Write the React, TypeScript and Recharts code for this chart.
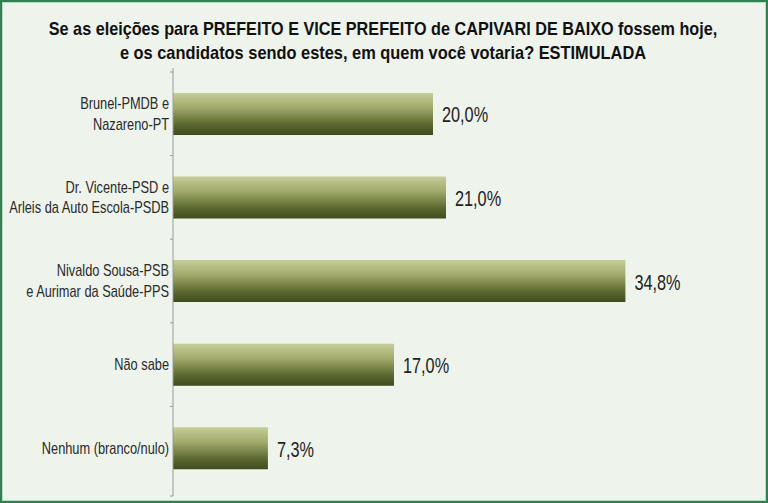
import React, { useLayoutEffect, useRef, useState } from 'react'
import { BarChart, Bar, XAxis, YAxis, LabelList } from 'recharts'

const categories = [
  'Brunel-PMDB e\nNazareno-PT',
  'Dr. Vicente-PSD e\nArleis da Auto Escola-PSDB',
  'Nivaldo Sousa-PSB\ne Aurimar da Saúde-PPS',
  'Não sabe',
  'Nenhum (branco/nulo)',
]
const votes = [20.0, 21.0, 34.8, 17.0, 7.3]

const titleLines = [
  'Se as eleições para PREFEITO E VICE PREFEITO de CAPIVARI DE BAIXO fossem hoje,',
  'e os candidatos sendo estes, em quem você votaria? ESTIMULADA',
]
const titleWidths = [668, 526]

const data = categories.map((name, i) => ({ name, value: votes[i] }))

const FONT = '"Liberation Sans", Arial, sans-serif'
const CHART_TOP = 72
const CHART_BOTTOM = 13
const CHART_H = 503
const band = (CHART_H - CHART_TOP - CHART_BOTTOM) / categories.length
const AXIS = '#9a9a9a'

// no narrow font installed, so squeeze the bold title to the width it has in the original
function Title() {
  const refs = useRef<(SVGTextElement | null)[]>([])
  const [scales, setScales] = useState<number[]>(titleLines.map(() => 0.85))
  useLayoutEffect(() => {
    setScales(
      titleLines.map((_, i) => {
        const el = refs.current[i]
        const w = el ? el.getComputedTextLength() : 0
        return w > 0 ? titleWidths[i] / w : 0.85
      }),
    )
  }, [])
  return (
    <svg width={768} height={70} style={{ position: 'absolute', left: -2, top: -2 }}>
      {titleLines.map((t, i) => (
        <text
          key={i}
          ref={(el) => {
            refs.current[i] = el
          }}
          transform={`translate(383,${35.3 + i * 23.4}) scale(${scales[i]},1)`}
          textAnchor="middle"
          fontFamily={FONT}
          fontWeight="bold"
          fontSize={18}
          fill="#111"
        >
          {t}
        </text>
      ))}
    </svg>
  )
}

// category label, plus the boundary tick marks excel puts between bands
function CategoryTick(props: any) {
  const { x, y, payload, index } = props
  const lines = String(payload.value).split('\n')
  const lineH = 20.5
  const first = index === 0
  const last = index === categories.length - 1
  const ax = x + 4
  return (
    <g>
      <line x1={ax - 3} x2={ax} y1={y - band / 2} y2={y - band / 2} stroke={AXIS} />
      {first && <line x1={ax} x2={ax} y1={y - band / 2 - 4} y2={y - band / 2} stroke={AXIS} />}
      {last && (
        <>
          <line x1={ax - 3} x2={ax} y1={y + band / 2 + 6} y2={y + band / 2 + 6} stroke={AXIS} />
          <line x1={ax} x2={ax} y1={y + band / 2} y2={y + band / 2 + 6} stroke={AXIS} />
        </>
      )}
      <text
        transform={`translate(${x},${y + 5.7 - ((lines.length - 1) * lineH) / 2}) scale(0.8,1)`}
        textAnchor="end"
        fontFamily={FONT}
        fontSize={16}
        fill="#2a2a2a"
      >
        {lines.map((l, i) => (
          <tspan key={i} x={0} y={i * lineH}>
            {l}
          </tspan>
        ))}
      </text>
    </g>
  )
}

function ValueLabel(props: any) {
  const { x, y, width, height, value } = props
  return (
    <text
      transform={`translate(${x + width + 9},${y + height / 2 + 8.5}) scale(0.74,1)`}
      fontFamily={FONT}
      fontSize={22}
      fill="#222"
    >
      {Number(value).toFixed(1).replace('.', ',') + '%'}
    </text>
  )
}

export default function App() {
  return (
    <div
      style={{
        position: 'fixed',
        left: 0,
        top: 0,
        width: 768,
        height: 503,
        boxSizing: 'border-box',
        background: '#eef3ec',
        border: '2px solid #327f51',
        boxShadow: 'inset 0 0 0 1px #b3dcc0',
      }}
    >
      <Title />
      <div style={{ position: 'absolute', left: -2, top: -2 }}>
        <BarChart
          width={768}
          height={CHART_H}
          data={data}
          layout="vertical"
          barCategoryGap="25%"
          margin={{ top: CHART_TOP, right: 75, bottom: CHART_BOTTOM, left: 0 }}
        >
          <defs>
            <linearGradient id="barFill" x1="0" y1="0" x2="0" y2="1">
              <stop offset="0%" stopColor="#c6cd97" />
              <stop offset="35%" stopColor="#a2aa6b" />
              <stop offset="75%" stopColor="#5c6830" />
              <stop offset="100%" stopColor="#3f4b1c" />
            </linearGradient>
          </defs>
          <XAxis type="number" domain={[0, 40]} hide />
          <YAxis
            type="category"
            dataKey="name"
            width={173}
            axisLine={{ stroke: AXIS }}
            tickLine={false}
            tickSize={0}
            tickMargin={4}
            interval={0}
            tick={<CategoryTick />}
          />
          <Bar dataKey="value" fill="url(#barFill)" isAnimationActive={false}>
            <LabelList dataKey="value" content={<ValueLabel />} />
          </Bar>
        </BarChart>
      </div>
    </div>
  )
}
